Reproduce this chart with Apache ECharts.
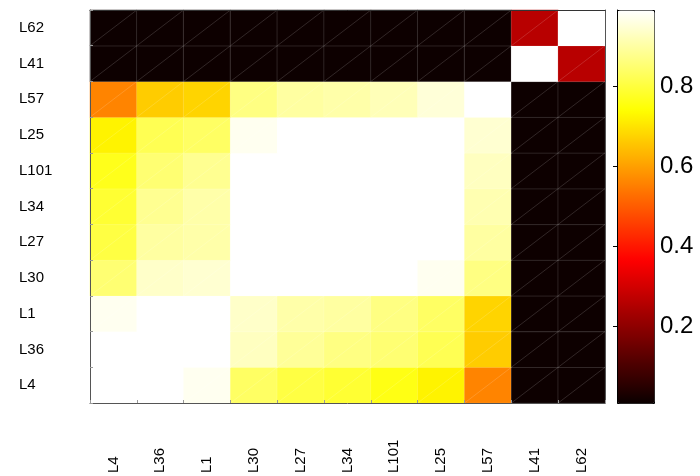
<!DOCTYPE html>
<html>
<head>
<meta charset="utf-8">
<script src="https://cdn.jsdelivr.net/npm/echarts@6/dist/echarts.min.js"></script>
<style>html,body{margin:0;padding:0;background:#fff;}#c{width:700px;height:476px;}</style>
</head>
<body>
<div id="c"></div>
<script>
// Categories (x left→right, y bottom→top)
const xCats = ['L4','L36','L1','L30','L27','L34','L101','L25','L57','L41','L62'];
const yCats = ['L4','L36','L1','L30','L27','L34','L101','L25','L57','L41','L62'];

// One row of values per y category, in x category order
const rowL4   = [0.99, 0.99, 0.975, 0.837, 0.806, 0.79, 0.76, 0.723, 0.56, 0.01, 0.01];
const rowL36  = [0.99, 0.99, 0.99, 0.929, 0.89, 0.867, 0.852, 0.821, 0.665, 0.01, 0.01];
const rowL1   = [0.975, 0.99, 0.99, 0.937, 0.906, 0.898, 0.867, 0.837, 0.677, 0.01, 0.01];
const rowL30  = [0.852, 0.937, 0.945, 0.99, 0.99, 0.99, 0.99, 0.975, 0.867, 0.01, 0.01];
const rowL27  = [0.806, 0.898, 0.906, 0.99, 0.99, 0.99, 0.99, 0.99, 0.898, 0.01, 0.01];
const rowL34  = [0.79, 0.883, 0.906, 0.99, 0.99, 0.99, 0.99, 0.99, 0.914, 0.01, 0.01];
const rowL101 = [0.767, 0.852, 0.883, 0.99, 0.99, 0.99, 0.99, 0.99, 0.929, 0.01, 0.01];
const rowL25  = [0.723, 0.821, 0.837, 0.975, 0.99, 0.99, 0.99, 0.99, 0.945, 0.01, 0.01];
const rowL57  = [0.56, 0.665, 0.677, 0.867, 0.898, 0.906, 0.921, 0.952, 0.99, 0.01, 0.01];
const rowL41  = [0.01, 0.01, 0.01, 0.01, 0.01, 0.01, 0.01, 0.01, 0.01, 0.99, 0.262];
const rowL62  = [0.01, 0.01, 0.01, 0.01, 0.01, 0.01, 0.01, 0.01, 0.01, 0.262, 0.99];

const colorbarTicks = [0.2, 0.4, 0.6, 0.8];
const valueMin = 0.0075;
const valueMax = 0.99;

const rows = [rowL4, rowL36, rowL1, rowL30, rowL27, rowL34, rowL101, rowL25, rowL57, rowL41, rowL62];
const cells = [];
rows.forEach((row, yi) => row.forEach((v, xi) => cells.push([xi, yi, v])));

// MATLAB "hot" colormap (64 steps)
const hot = [];
for (let i = 1; i <= 64; i++) {
  const r = Math.min(1, i / 24);
  const g = Math.max(0, Math.min(1, (i - 24) / 24));
  const b = Math.max(0, Math.min(1, (i - 48) / 16));
  const h = c => Math.round(c * 255).toString(16).padStart(2, '0');
  hot.push('#' + h(r) + h(g) + h(b));
}

const font = 'Liberation Sans, Arial, Helvetica, sans-serif';
const chart = echarts.init(document.getElementById('c'), null, {renderer: 'canvas'});
chart.setOption({
  animation: false,
  backgroundColor: '#fff',
  grid: [
    {left: 90, top: 10, width: 515, height: 393},
    {left: 617, top: 10, width: 37, height: 393}
  ],
  xAxis: [
    {type: 'category', data: xCats, gridIndex: 0, position: 'bottom', z: 5,
     axisLine: {show: true, lineStyle: {color: '#555', width: 1}},
     axisTick: {show: true, inside: true, length: 3, lineStyle: {color: '#999'}},
     axisLabel: {rotate: 90, align: 'left', verticalAlign: 'middle', margin: 70,
                 fontSize: 15, color: '#000', fontFamily: font},
     splitLine: {show: false}},
    {type: 'category', data: xCats, gridIndex: 0, position: 'top', z: 5,
     axisLine: {show: true, lineStyle: {color: '#333', width: 1}},
     axisTick: {show: false}, axisLabel: {show: false}},
    {type: 'value', gridIndex: 1, min: 0, max: 1, show: false}
  ],
  yAxis: [
    {type: 'category', data: yCats, gridIndex: 0, position: 'left', z: 5,
     axisLine: {show: true, lineStyle: {color: '#555', width: 1}},
     axisTick: {show: true, inside: true, length: 3, lineStyle: {color: '#999'}},
     axisLabel: {align: 'left', margin: 71, fontSize: 15, color: '#000', fontFamily: font},
     splitLine: {show: false}},
    {type: 'category', data: yCats, gridIndex: 0, position: 'right', z: 5,
     axisLine: {show: true, lineStyle: {color: '#555', width: 1}},
     axisTick: {show: false}, axisLabel: {show: false}},
    {type: 'value', gridIndex: 1, position: 'right', min: valueMin, max: valueMax, z: 5,
     axisLine: {show: true, lineStyle: {color: '#000', width: 1}},
     axisTick: {show: true, inside: true, length: 4, customValues: colorbarTicks, lineStyle: {color: '#000'}},
     axisLabel: {customValues: colorbarTicks, fontSize: 24, margin: 6, color: '#000', fontFamily: font,
                 formatter: v => v.toFixed(1)},
     splitLine: {show: false}}
  ],
  visualMap: {
    type: 'continuous', min: valueMin, max: valueMax, seriesIndex: 0,
    inRange: {color: hot}, calculable: false, orient: 'vertical',
    left: 617, top: 10, itemWidth: 37, itemHeight: 393, padding: 0,
    text: null, showLabel: false, hoverLink: false,
    borderColor: '#000', borderWidth: 1
  },
  series: [
    {type: 'heatmap', xAxisIndex: 0, yAxisIndex: 0, data: cells,
     itemStyle: {borderColor: 'rgba(255,255,255,0.22)', borderWidth: 0.6},
     emphasis: {disabled: true}},
    {type: 'custom', xAxisIndex: 0, yAxisIndex: 0, data: cells, z: 3, silent: true,
     renderItem: (params, api) => {
       const c = api.coord([api.value(0), api.value(1)]);
       const s = api.size([1, 1]);
       return {type: 'line',
               shape: {x1: c[0] - s[0] / 2, y1: c[1] + s[1] / 2, x2: c[0] + s[0] / 2, y2: c[1] - s[1] / 2},
               style: {stroke: 'rgba(255,255,255,0.25)', lineWidth: 0.6}};
     }}
  ]
});
</script>
</body>
</html>
